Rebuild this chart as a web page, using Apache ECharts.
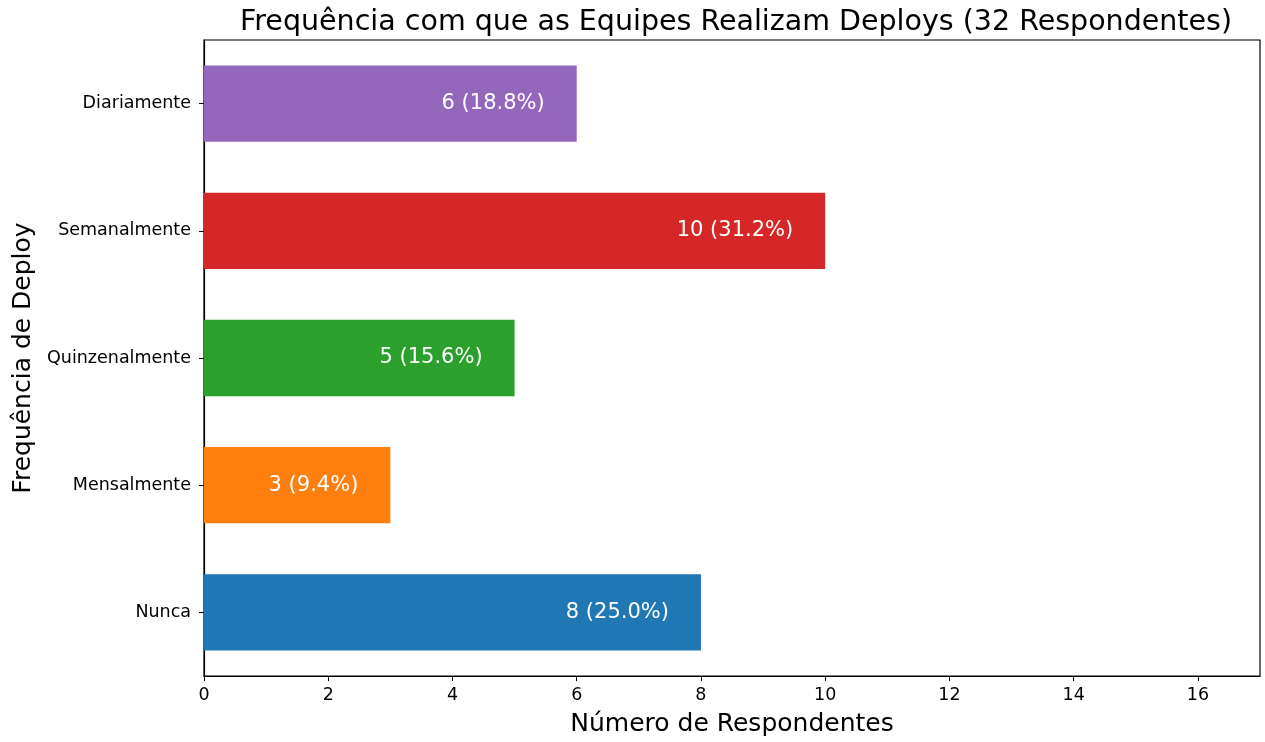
<!DOCTYPE html>
<html>
<head>
<meta charset="utf-8">
<script src="https://cdn.jsdelivr.net/npm/echarts@6/dist/echarts.min.js"></script>
<style>
	html, body { margin: 0; padding: 0; background: #fff; }
	#chart { width: 1265px; height: 742px; }
</style>
</head>
<body>
<div id="chart"></div>
<script>
	// dados (de baixo para cima)
	var categories = ['Nunca', 'Mensalmente', 'Quinzenalmente', 'Semanalmente', 'Diariamente'];
	var counts = [8, 3, 5, 10, 6];
	var percentLabels = ['25.0%', '9.4%', '15.6%', '31.2%', '18.8%'];
	var barColors = ['#1f77b4', '#ff7f0e', '#2ca02c', '#d62728', '#9467bd'];
	var xTicks = [0, 2, 4, 6, 8, 10, 12, 14, 16];

	var font = 'DejaVu Sans';
	var myChart = echarts.init(document.getElementById('chart'));

	var option = {
		animation: false,
		title: {
			text: 'Frequência com que as Equipes Realizam Deploys (32 Respondentes)',
			left: 731,
			textAlign: 'center',
			top: 3,
			textStyle: { fontFamily: font, fontSize: 28.5, fontWeight: 'normal', color: '#000' }
		},
		grid: {
			left: 204, right: 5, top: 40, bottom: 65,
			show: true, borderColor: '#000', borderWidth: 1.2
		},
		xAxis: {
			type: 'value',
			min: 0, max: 17, interval: 2,
			name: 'Número de Respondentes',
			nameLocation: 'middle',
			nameGap: 36,
			nameTextStyle: { fontFamily: font, fontSize: 25, color: '#000' },
			axisLine: { show: true, lineStyle: { color: '#000', width: 1.2 } },
			axisTick: { show: true, length: 5, customValues: xTicks, lineStyle: { color: '#000' } },
			splitLine: { show: false },
			axisLabel: {
				fontFamily: font, fontSize: 17.5, color: '#000', margin: 10,
				customValues: xTicks
			}
		},
		yAxis: {
			type: 'category',
			data: categories,
			name: 'Frequência de Deploy',
			nameLocation: 'middle',
			nameRotate: 90,
			nameGap: 166,
			nameTextStyle: { fontFamily: font, fontSize: 25, color: '#000' },
			axisLine: { show: true, lineStyle: { color: '#000', width: 1.2 } },
			axisTick: { show: true, alignWithLabel: true, length: 5, lineStyle: { color: '#000' } },
			axisLabel: { fontFamily: font, fontSize: 17.5, color: '#000', margin: 13 }
		},
		series: [{
			type: 'bar',
			barCategoryGap: '40%',
			data: counts.map(function (v, i) {
				return { value: v, itemStyle: { color: barColors[i] } };
			}),
			label: {
				show: true,
				position: 'insideRight',
				distance: 32,
				fontFamily: font,
				fontSize: 21,
				color: '#fff',
				formatter: function (p) {
					return p.value + ' (' + percentLabels[p.dataIndex] + ')';
				}
			}
		}]
	};
	myChart.setOption(option);
</script>
</body>
</html>
